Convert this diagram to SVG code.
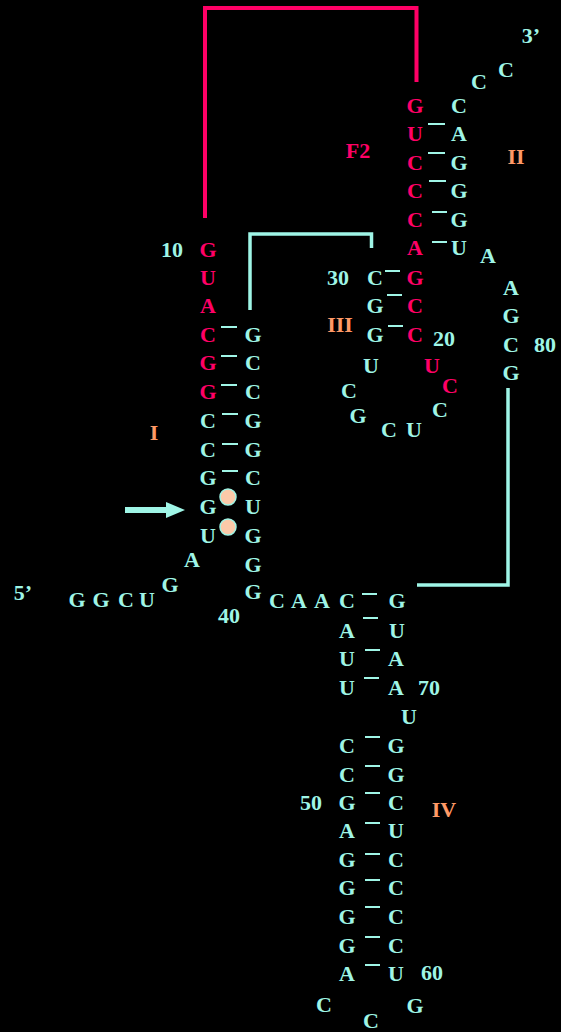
<svg xmlns="http://www.w3.org/2000/svg" width="561" height="1032" viewBox="0 0 561 1032">
<style>
text{font-family:"Liberation Serif","Times New Roman",serif;font-weight:bold;font-size:22px;text-anchor:middle}
.c{fill:#9ff5e6}
.r{fill:#ff0066}
.o{fill:#ff9966}
.d{stroke:#9ff5e6;stroke-width:2}
.lc{fill:none;stroke:#9ff5e6;stroke-width:3.5}
.lr{fill:none;stroke:#ff0066;stroke-width:4}
</style>
<rect width="561" height="1032" fill="#000"/>
<g id="connectors">
<path class="lr" d="M205,218 V8 H416.5 V82"/>
<path class="lc" d="M250,310 V234 H371.5 V248"/>
<path class="lc" d="M508,388 V585 H417"/>
<g id="pairs">
<line class="d" x1="428" y1="124" x2="445" y2="124"/>
<line class="d" x1="428" y1="153" x2="445" y2="153"/>
<line class="d" x1="429" y1="181" x2="446" y2="181"/>
<line class="d" x1="432" y1="212" x2="447" y2="212"/>
<line class="d" x1="432" y1="242" x2="447" y2="242"/>
<line class="d" x1="385" y1="271" x2="400" y2="271"/>
<line class="d" x1="387" y1="295" x2="402" y2="295"/>
<line class="d" x1="388" y1="326" x2="403" y2="326"/>
<line class="d" x1="221" y1="327" x2="237" y2="327"/>
<line class="d" x1="221" y1="356" x2="237" y2="356"/>
<line class="d" x1="221" y1="385" x2="237" y2="385"/>
<line class="d" x1="222" y1="414" x2="238" y2="414"/>
<line class="d" x1="222" y1="444" x2="238" y2="444"/>
<line class="d" x1="222" y1="471" x2="238" y2="471"/>
<circle cx="228" cy="497" r="8" fill="#fcc9a8" stroke="#9ff5e6" stroke-width="1.5"/>
<circle cx="228" cy="527" r="8" fill="#fcc9a8" stroke="#9ff5e6" stroke-width="1.5"/>
<line class="d" x1="362" y1="594" x2="377" y2="594"/>
<line class="d" x1="363" y1="618" x2="378" y2="618"/>
<line class="d" x1="365" y1="650" x2="380" y2="650"/>
<line class="d" x1="364" y1="678" x2="379" y2="678"/>
<line class="d" x1="365" y1="737" x2="380" y2="737"/>
<line class="d" x1="365" y1="766" x2="380" y2="766"/>
<line class="d" x1="365" y1="793" x2="380" y2="793"/>
<line class="d" x1="365" y1="823" x2="380" y2="823"/>
<line class="d" x1="365" y1="854" x2="380" y2="854"/>
<line class="d" x1="365" y1="880" x2="380" y2="880"/>
<line class="d" x1="365" y1="907" x2="380" y2="907"/>
<line class="d" x1="365" y1="937" x2="380" y2="937"/>
<line class="d" x1="365" y1="965" x2="380" y2="965"/>
</g>
<g id="arrow" fill="#9ff5e6">
<rect x="125" y="507" width="43" height="6"/>
<polygon points="166,502 185,510 166,518"/>
</g>
</g>
<g id="stemI">
<text class="r" x="208" y="257">G</text>
<text class="r" x="208" y="285">U</text>
<text class="r" x="208" y="313">A</text>
<text class="r" x="208" y="342">C</text>
<text class="r" x="208" y="370">G</text>
<text class="r" x="208" y="399">G</text>
<text class="c" x="208" y="428">C</text>
<text class="c" x="208" y="457">C</text>
<text class="c" x="208" y="485">G</text>
<text class="c" x="208" y="514">G</text>
<text class="c" x="208" y="543">U</text>
<text class="c" x="253" y="342">G</text>
<text class="c" x="253" y="370">C</text>
<text class="c" x="253" y="399">C</text>
<text class="c" x="253" y="428">G</text>
<text class="c" x="253" y="457">G</text>
<text class="c" x="253" y="485">C</text>
<text class="c" x="253" y="514">U</text>
<text class="c" x="253" y="543">G</text>
<text class="c" x="253" y="572">G</text>
<text class="c" x="253" y="599">G</text>
</g>
<g id="tail5">
<text class="c" x="23" y="600">5’</text>
<text class="c" x="77" y="607">G</text>
<text class="c" x="101" y="607">G</text>
<text class="c" x="126" y="607">C</text>
<text class="c" x="147" y="607">U</text>
<text class="c" x="170" y="592">G</text>
<text class="c" x="192" y="567">A</text>
</g>
<g id="stemII">
<text class="r" x="415" y="113">G</text>
<text class="r" x="415" y="141">U</text>
<text class="r" x="415" y="170">C</text>
<text class="r" x="415" y="198">C</text>
<text class="r" x="415" y="227">C</text>
<text class="r" x="415" y="255">A</text>
<text class="c" x="459" y="113">C</text>
<text class="c" x="459" y="141">A</text>
<text class="c" x="459" y="170">G</text>
<text class="c" x="459" y="198">G</text>
<text class="c" x="459" y="227">G</text>
<text class="c" x="459" y="255">U</text>
</g>
<g id="tail3">
<text class="c" x="479" y="89">C</text>
<text class="c" x="506" y="77">C</text>
<text class="c" x="531" y="43">3’</text>
</g>
<g id="stemIII">
<text class="r" x="415" y="285">G</text>
<text class="r" x="415" y="313">C</text>
<text class="r" x="415" y="342">C</text>
<text class="c" x="375" y="285">C</text>
<text class="c" x="375" y="313">G</text>
<text class="c" x="375" y="342">G</text>
<text class="c" x="371" y="373">U</text>
<text class="c" x="349" y="398">C</text>
<text class="c" x="358" y="423">G</text>
<text class="c" x="389" y="437">C</text>
<text class="c" x="414" y="437">U</text>
<text class="c" x="440" y="417">C</text>
<text class="r" x="450" y="393">C</text>
<text class="r" x="432" y="373">U</text>
</g>
<g id="linker">
<text class="c" x="488" y="263">A</text>
<text class="c" x="511" y="295">A</text>
<text class="c" x="511" y="323">G</text>
<text class="c" x="511" y="352">C</text>
<text class="c" x="511" y="380">G</text>
</g>
<g id="stemIV">
<text class="c" x="277" y="608">C</text>
<text class="c" x="299" y="608">A</text>
<text class="c" x="322" y="608">A</text>
<text class="c" x="347" y="608">C</text>
<text class="c" x="347" y="638">A</text>
<text class="c" x="347" y="666">U</text>
<text class="c" x="347" y="695">U</text>
<text class="c" x="347" y="753">C</text>
<text class="c" x="347" y="782">C</text>
<text class="c" x="347" y="810">G</text>
<text class="c" x="347" y="838">A</text>
<text class="c" x="347" y="867">G</text>
<text class="c" x="347" y="895">G</text>
<text class="c" x="347" y="924">G</text>
<text class="c" x="347" y="953">G</text>
<text class="c" x="347" y="981">A</text>
<text class="c" x="397" y="608">G</text>
<text class="c" x="397" y="638">U</text>
<text class="c" x="396" y="666">A</text>
<text class="c" x="396" y="695">A</text>
<text class="c" x="409" y="724">U</text>
<text class="c" x="396" y="753">G</text>
<text class="c" x="396" y="782">G</text>
<text class="c" x="396" y="810">C</text>
<text class="c" x="396" y="838">U</text>
<text class="c" x="396" y="867">C</text>
<text class="c" x="396" y="895">C</text>
<text class="c" x="396" y="924">C</text>
<text class="c" x="396" y="953">C</text>
<text class="c" x="396" y="981">U</text>
<text class="c" x="324" y="1012">C</text>
<text class="c" x="371" y="1028">C</text>
<text class="c" x="415" y="1013">G</text>
</g>
<g id="labels">
<text class="c" x="172" y="257">10</text>
<text class="c" x="338" y="285">30</text>
<text class="c" x="444" y="346">20</text>
<text class="c" x="229" y="623">40</text>
<text class="c" x="311" y="810">50</text>
<text class="c" x="432" y="980">60</text>
<text class="c" x="429" y="695">70</text>
<text class="c" x="545" y="352">80</text>
<text class="r" x="358" y="158">F2</text>
<text class="o" x="154" y="440">I</text>
<text class="o" x="516" y="164">II</text>
<text class="o" x="340" y="332">III</text>
<text class="o" x="444" y="817">IV</text>
</g>
</svg>
